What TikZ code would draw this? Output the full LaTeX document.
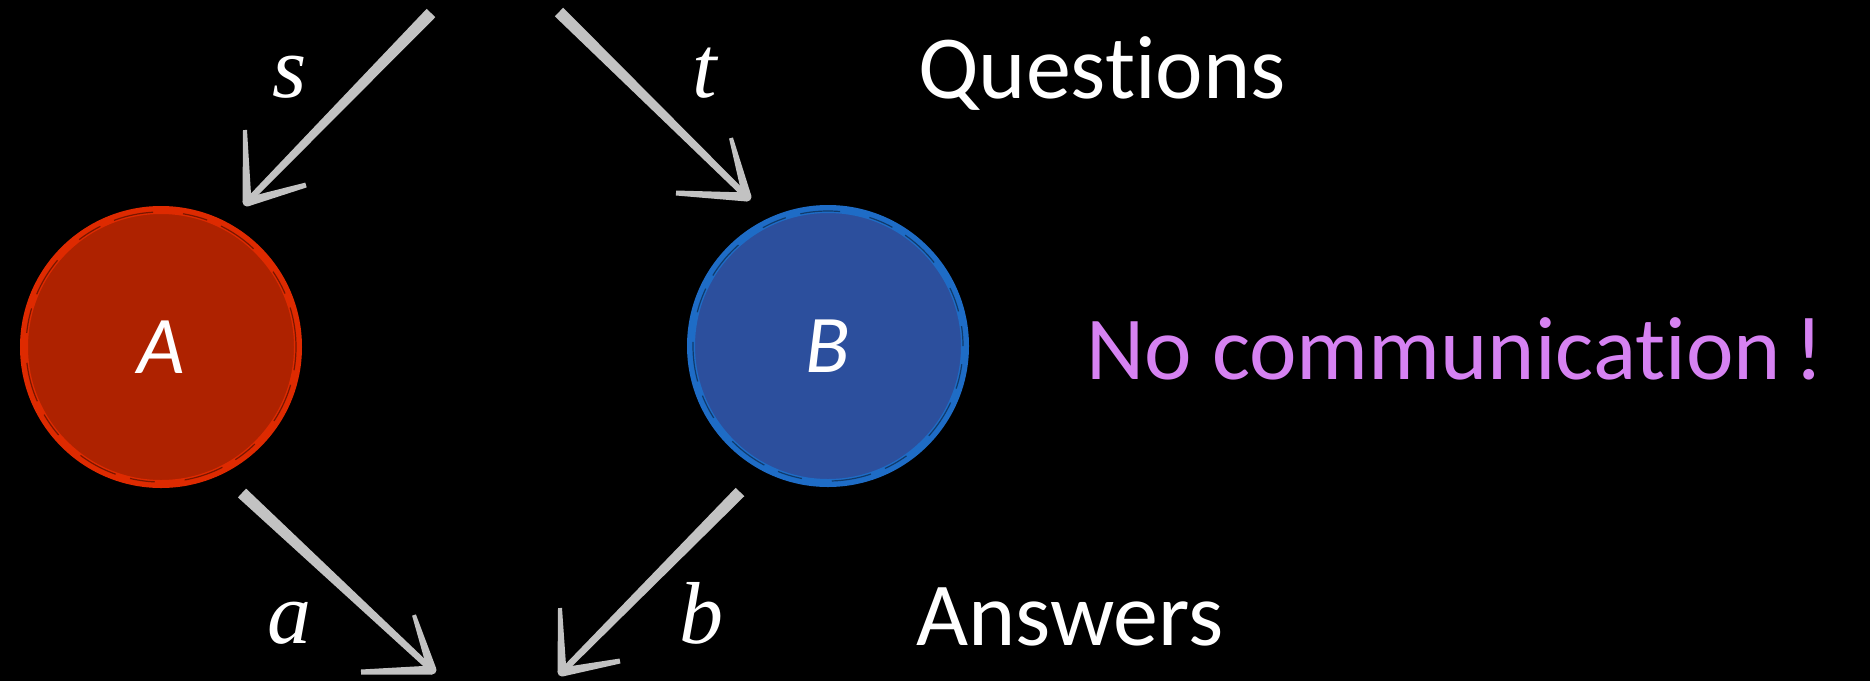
\documentclass[tikz,border=0pt]{standalone}
\usepackage{fontspec}
\setmainfont{Carlito}[Ligatures={NoCommon}]
\newfontfamily\lblserif{Liberation Serif}
\usetikzlibrary{calc}
\definecolor{chalk}{HTML}{C2C2C2}
\definecolor{afill}{HTML}{AE2200}
\definecolor{aline}{HTML}{DE2A00}
\definecolor{bfill}{HTML}{2C4F9D}
\definecolor{bline}{HTML}{1E6CC6}
\definecolor{nocomm}{HTML}{D682F2}
\newcommand\chalkarrow[4]{%
  \fill[chalk] ($(#1)!6pt!90:(#2)$) -- ($(#1)!6pt!-90:(#2)$) --
    ($(#2)!3pt!90:(#1)$) -- ($(#2)!3pt!-90:(#1)$) -- cycle;
  \fill[chalk] ($(#3)!2pt!90:(#2)$) -- ($(#3)!2pt!-90:(#2)$) --
    ($(#2)!4.5pt!90:(#3)$) -- ($(#2)!4.5pt!-90:(#3)$) -- cycle;
  \fill[chalk] ($(#4)!2.5pt!90:(#2)$) -- ($(#4)!2.5pt!-90:(#2)$) --
    ($(#2)!4.5pt!90:(#4)$) -- ($(#2)!4.5pt!-90:(#4)$) -- cycle;
  \fill[chalk] (#2) circle (4.5pt);
}
\tikzset{
  player/.style={circle, minimum size=274pt, inner sep=0pt, line width=8pt,
    text=white, font=\fontsize{82}{82}\selectfont\itshape},
  chalkring/.style={draw=black, opacity=0.45, line width=1.2pt,
    dash pattern=on 40pt off 15pt on 25pt off 30pt},
  var/.style={text=white, anchor=base, inner sep=0pt,
    font=\lblserif\itshape\fontsize{88}{88}\selectfont},
  word/.style={text=white, anchor=base west, inner sep=0pt,
    font=\fontsize{90}{90}\selectfont}
}
\begin{document}
\begin{tikzpicture}[x=1pt,y=-1pt]
\fill[black] (0,0) rectangle (1870,681);
\useasboundingbox (0,0) rectangle (1870,681);

\node[player, fill=afill, draw=aline] (A) at (161,347) {A};
\node[player, fill=bfill, draw=bline] (B) at (828,346) {B};
\draw[chalkring] (A.center) circle (135pt);
\draw[chalkring, dash phase=20pt] (B.center) circle (135pt);

% free ends of the arrows
\coordinate (sTop) at (431,13);  \coordinate (sTip) at (247,202);
\coordinate (sArm1) at (245,130); \coordinate (sArm2) at (306,185);
\coordinate (tTop) at (559,12);  \coordinate (tTip) at (747,197);
\coordinate (tArm1) at (731,138); \coordinate (tArm2) at (676,193);
\coordinate (aTop) at (242,493); \coordinate (aTip) at (432,670);
\coordinate (aArm1) at (414,615); \coordinate (aArm2) at (361,672);
\coordinate (bTop) at (740,492); \coordinate (bTip) at (562,672);
\coordinate (bArm1) at (560,608); \coordinate (bArm2) at (620,661);

\chalkarrow{sTop}{sTip}{sArm1}{sArm2}
\chalkarrow{tTop}{tTip}{tArm1}{tArm2}
\chalkarrow{aTop}{aTip}{aArm1}{aArm2}
\chalkarrow{bTop}{bTip}{bArm1}{bArm2}

\node[var] (s) at (290,97) {s};
\node[var] (t) at (705,97) {t};
\node[var] (a) at (289,643) {a};
\node[var] (b) at (701,643) {b};

\node[word] (q) at (918,98) {Questions};
\node[word] (ans) at (916,645) {Answers};
\node[word, text=nocomm] (nc) at (1086,379) {No communication\hspace{14pt}!};
\end{tikzpicture}
\end{document}
